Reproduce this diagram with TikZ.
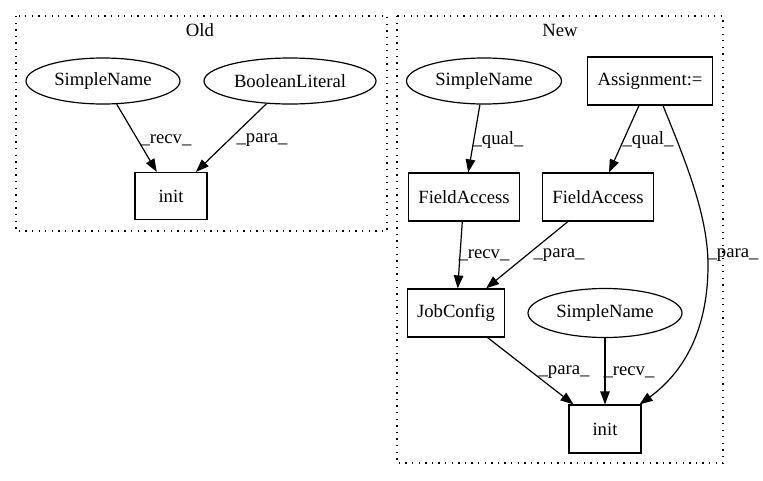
\documentclass[tikz,border=0pt]{standalone}
\usepackage{fontspec}
\setmainfont{Liberation Serif}
\usetikzlibrary{arrows.meta,shapes.geometric}
\begin{document}
\begin{tikzpicture}[x=1pt,y=-1pt,
  every node/.style={font=\fontsize{18.67}{22}\selectfont},
  ell/.style={draw,ellipse,inner sep=0pt,line width=1.2pt},
  box/.style={draw,rectangle,inner sep=0pt,line width=1.2pt},
  lbl/.style={inner sep=0pt},
  edge/.style={-{Triangle[length=13pt,width=9.5pt]},line width=1.2pt},
  clus/.style={line width=1.2pt,dash pattern=on 1.3pt off 5.3pt}]
\useasboundingbox (0,0) rectangle (763,480);
% clusters
\draw[clus] (16,16) rectangle (387,231);
\draw[clus] (397,16) rectangle (723,463);
\node[lbl] (oldlbl) at (200,30) {Old};
\node[lbl] (newlbl) at (560,30) {New};
% Old
\node[ell,minimum width=154pt,minimum height=46pt] (osn) at (103,81) {SimpleName};
\node[ell,minimum width=172pt,minimum height=46pt] (obl) at (290,81) {BooleanLiteral};
\node[box,minimum width=72pt,minimum height=47pt] (oinit) at (171,196) {init};
\draw[edge] (osn) -- (oinit);
\draw[edge] (obl) -- (oinit);
\node[lbl] (l1) at (166,140) {\_recv\_};
\node[lbl] (l2) at (262,140) {\_para\_};
% New
\node[ell,minimum width=155pt,minimum height=46pt] (nsn) at (484,81) {SimpleName};
\node[box,minimum width=125pt,minimum height=48pt] (asg) at (650,81) {Assignment:=};
\node[box,minimum width=111pt,minimum height=48pt] (fa1) at (464,197) {FieldAccess};
\node[box,minimum width=111pt,minimum height=48pt] (fa2) at (598,197) {FieldAccess};
\node[box,minimum width=97pt,minimum height=48pt] (jc) at (456,313) {JobConfig};
\node[ell,minimum width=154pt,minimum height=49pt] (nsn2) at (605,313) {SimpleName};
\node[box,minimum width=72pt,minimum height=48pt] (ninit) at (605,429) {init};
\draw[edge] (nsn) -- (fa1);
\draw[edge] (asg) -- (fa2);
\draw[edge] (fa1) -- (jc);
\draw[edge] (fa2) -- (jc);
\draw[edge] (jc) -- (ninit);
\draw[edge] (nsn2) -- (ninit);
\draw[edge] ([xshift=13pt]asg.south) .. controls (685,160) and (708,215) .. (708,265)
  .. controls (708,335) and (680,375) .. ([xshift=-2pt]ninit.north east);
\node[lbl] (l3) at (498,140) {\_qual\_};
\node[lbl] (l4) at (648,140) {\_qual\_};
\node[lbl] (l5) at (484,255) {\_recv\_};
\node[lbl] (l6) at (559,255) {\_para\_};
\node[lbl] (l7) at (733,255) {\_para\_};
\node[lbl] (l8) at (564,372) {\_para\_};
\node[lbl] (l9) at (629,372) {\_recv\_};
\end{tikzpicture}
\end{document}
